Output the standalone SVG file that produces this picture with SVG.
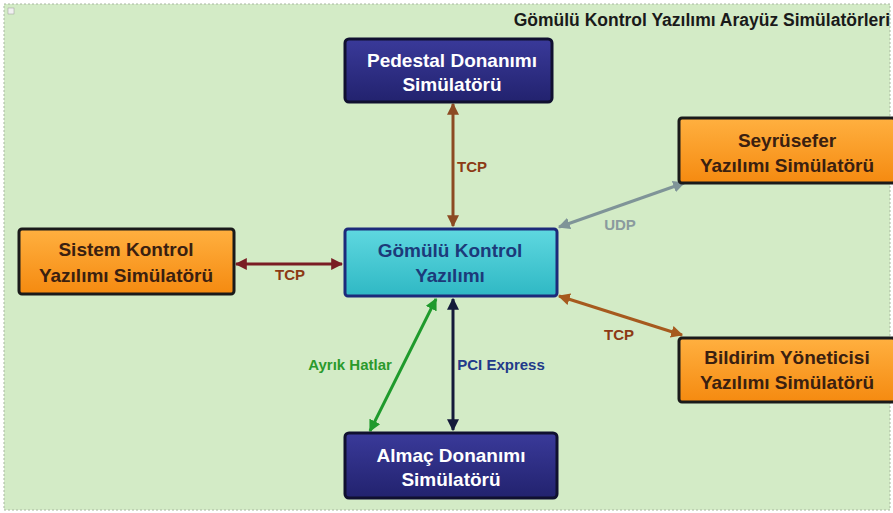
<svg xmlns="http://www.w3.org/2000/svg" width="893" height="513" viewBox="0 0 893 513">
<defs>
<linearGradient id="navy" x1="0" y1="0" x2="0" y2="1"><stop offset="0" stop-color="#3a3a9a"/><stop offset="1" stop-color="#22226e"/></linearGradient>
<linearGradient id="orange" x1="0" y1="0" x2="0" y2="1"><stop offset="0" stop-color="#ffb040"/><stop offset="1" stop-color="#f58a10"/></linearGradient>
<linearGradient id="cyan" x1="0" y1="0" x2="0" y2="1"><stop offset="0" stop-color="#5fd8e0"/><stop offset="1" stop-color="#2fb8c4"/></linearGradient>
<marker id="aBrown" viewBox="0 0 10 10" refX="9" refY="5" markerWidth="4" markerHeight="4" orient="auto-start-reverse"><path d="M0,0 L10,5 L0,10 z" fill="#8c4a22"/></marker>
<marker id="aRed" viewBox="0 0 10 10" refX="9" refY="5" markerWidth="4" markerHeight="4" orient="auto-start-reverse"><path d="M0,0 L10,5 L0,10 z" fill="#7a1c24"/></marker>
<marker id="aGrey" viewBox="0 0 10 10" refX="9" refY="5" markerWidth="4" markerHeight="4" orient="auto-start-reverse"><path d="M0,0 L10,5 L0,10 z" fill="#7f9498"/></marker>
<marker id="aOr" viewBox="0 0 10 10" refX="9" refY="5" markerWidth="4" markerHeight="4" orient="auto-start-reverse"><path d="M0,0 L10,5 L0,10 z" fill="#a65a1e"/></marker>
<marker id="aGreen" viewBox="0 0 10 10" refX="9" refY="5" markerWidth="4" markerHeight="4" orient="auto-start-reverse"><path d="M0,0 L10,5 L0,10 z" fill="#1f9a2c"/></marker>
<marker id="aDark" viewBox="0 0 10 10" refX="9" refY="5" markerWidth="4" markerHeight="4" orient="auto-start-reverse"><path d="M0,0 L10,5 L0,10 z" fill="#141a3a"/></marker>
</defs>
<style>
text{font-family:"Liberation Sans",Arial,sans-serif;font-weight:bold;text-anchor:middle}
.nav rect{fill:url(#navy);stroke:#101030;stroke-width:3}
.nav text{fill:#ffffff;font-size:19px}
.org rect{fill:url(#orange);stroke:#1a1a1a;stroke-width:3}
.org text{fill:#3a2010;font-size:19px}
.lbl{font-size:15px}
line{stroke-width:3;fill:none}
</style>
<rect x="0" y="0" width="893" height="513" fill="#ffffff"/>
<rect x="4" y="4" width="886" height="506" fill="#d3ebc6" stroke="#a8b8a0" stroke-width="1" stroke-dasharray="2,2"/>
<rect x="8" y="8" width="6" height="6" fill="#f0f0f0" stroke="#999" stroke-width="0.5"/>
<text x="890" y="26" style="text-anchor:end;font-size:17.5px;fill:#1a1a1a">Gömülü Kontrol Yazılımı Arayüz Simülatörleri</text>

<g id="connectors">
<line x1="453" y1="104" x2="453" y2="226" stroke="#8c4a22" marker-start="url(#aBrown)" marker-end="url(#aBrown)"/>
<text class="lbl" x="472" y="172" fill="#8c3a14">TCP</text>
<line x1="236" y1="264" x2="342" y2="264" stroke="#7a1c24" marker-start="url(#aRed)" marker-end="url(#aRed)"/>
<text class="lbl" x="290" y="280" fill="#8c3a14">TCP</text>
<line x1="559" y1="227" x2="684" y2="183" stroke="#7f9498" marker-start="url(#aGrey)" marker-end="url(#aGrey)"/>
<text class="lbl" x="620" y="230" fill="#8a9a9e">UDP</text>
<line x1="559" y1="296" x2="682" y2="335" stroke="#a65a1e" marker-start="url(#aOr)" marker-end="url(#aOr)"/>
<text class="lbl" x="619" y="340" fill="#8c3a14">TCP</text>
<line x1="436" y1="299" x2="370" y2="431" stroke="#1f9a2c" marker-start="url(#aGreen)" marker-end="url(#aGreen)"/>
<text class="lbl" x="350" y="370" fill="#2a9a2c">Ayrık Hatlar</text>
<line x1="453" y1="299" x2="453" y2="430" stroke="#141a3a" marker-start="url(#aDark)" marker-end="url(#aDark)"/>
<text class="lbl" x="501" y="370" fill="#223a8a">PCI Express</text>
</g>

<g id="pedestal" class="nav">
<rect x="345" y="39" width="207" height="63" rx="4"/>
<text x="452" y="67">Pedestal Donanımı</text>
<text x="452" y="91">Simülatörü</text>
</g>
<g id="seyrusefer" class="org">
<rect x="679" y="118" width="216" height="65" rx="3"/>
<text x="787" y="147">Seyrüsefer</text>
<text x="787" y="172">Yazılımı Simülatörü</text>
</g>
<g id="sistem" class="org">
<rect x="19" y="229" width="215" height="65" rx="3"/>
<text x="126" y="256">Sistem Kontrol</text>
<text x="126" y="282">Yazılımı Simülatörü</text>
</g>
<g id="gomulu">
<rect x="345" y="229" width="212" height="67" rx="3" fill="url(#cyan)" stroke="#1c2a7a" stroke-width="3"/>
<text x="450" y="257" style="font-size:19px;fill:#1c3a7a">Gömülü Kontrol</text>
<text x="450" y="282" style="font-size:19px;fill:#1c3a7a">Yazılımı</text>
</g>
<g id="bildirim" class="org">
<rect x="679" y="338" width="216" height="64" rx="3"/>
<text x="787" y="364">Bildirim Yöneticisi</text>
<text x="787" y="389">Yazılımı Simülatörü</text>
</g>
<g id="almac" class="nav">
<rect x="345" y="433" width="212" height="65" rx="4"/>
<text x="451" y="462">Almaç Donanımı</text>
<text x="451" y="486">Simülatörü</text>
</g>
</svg>
